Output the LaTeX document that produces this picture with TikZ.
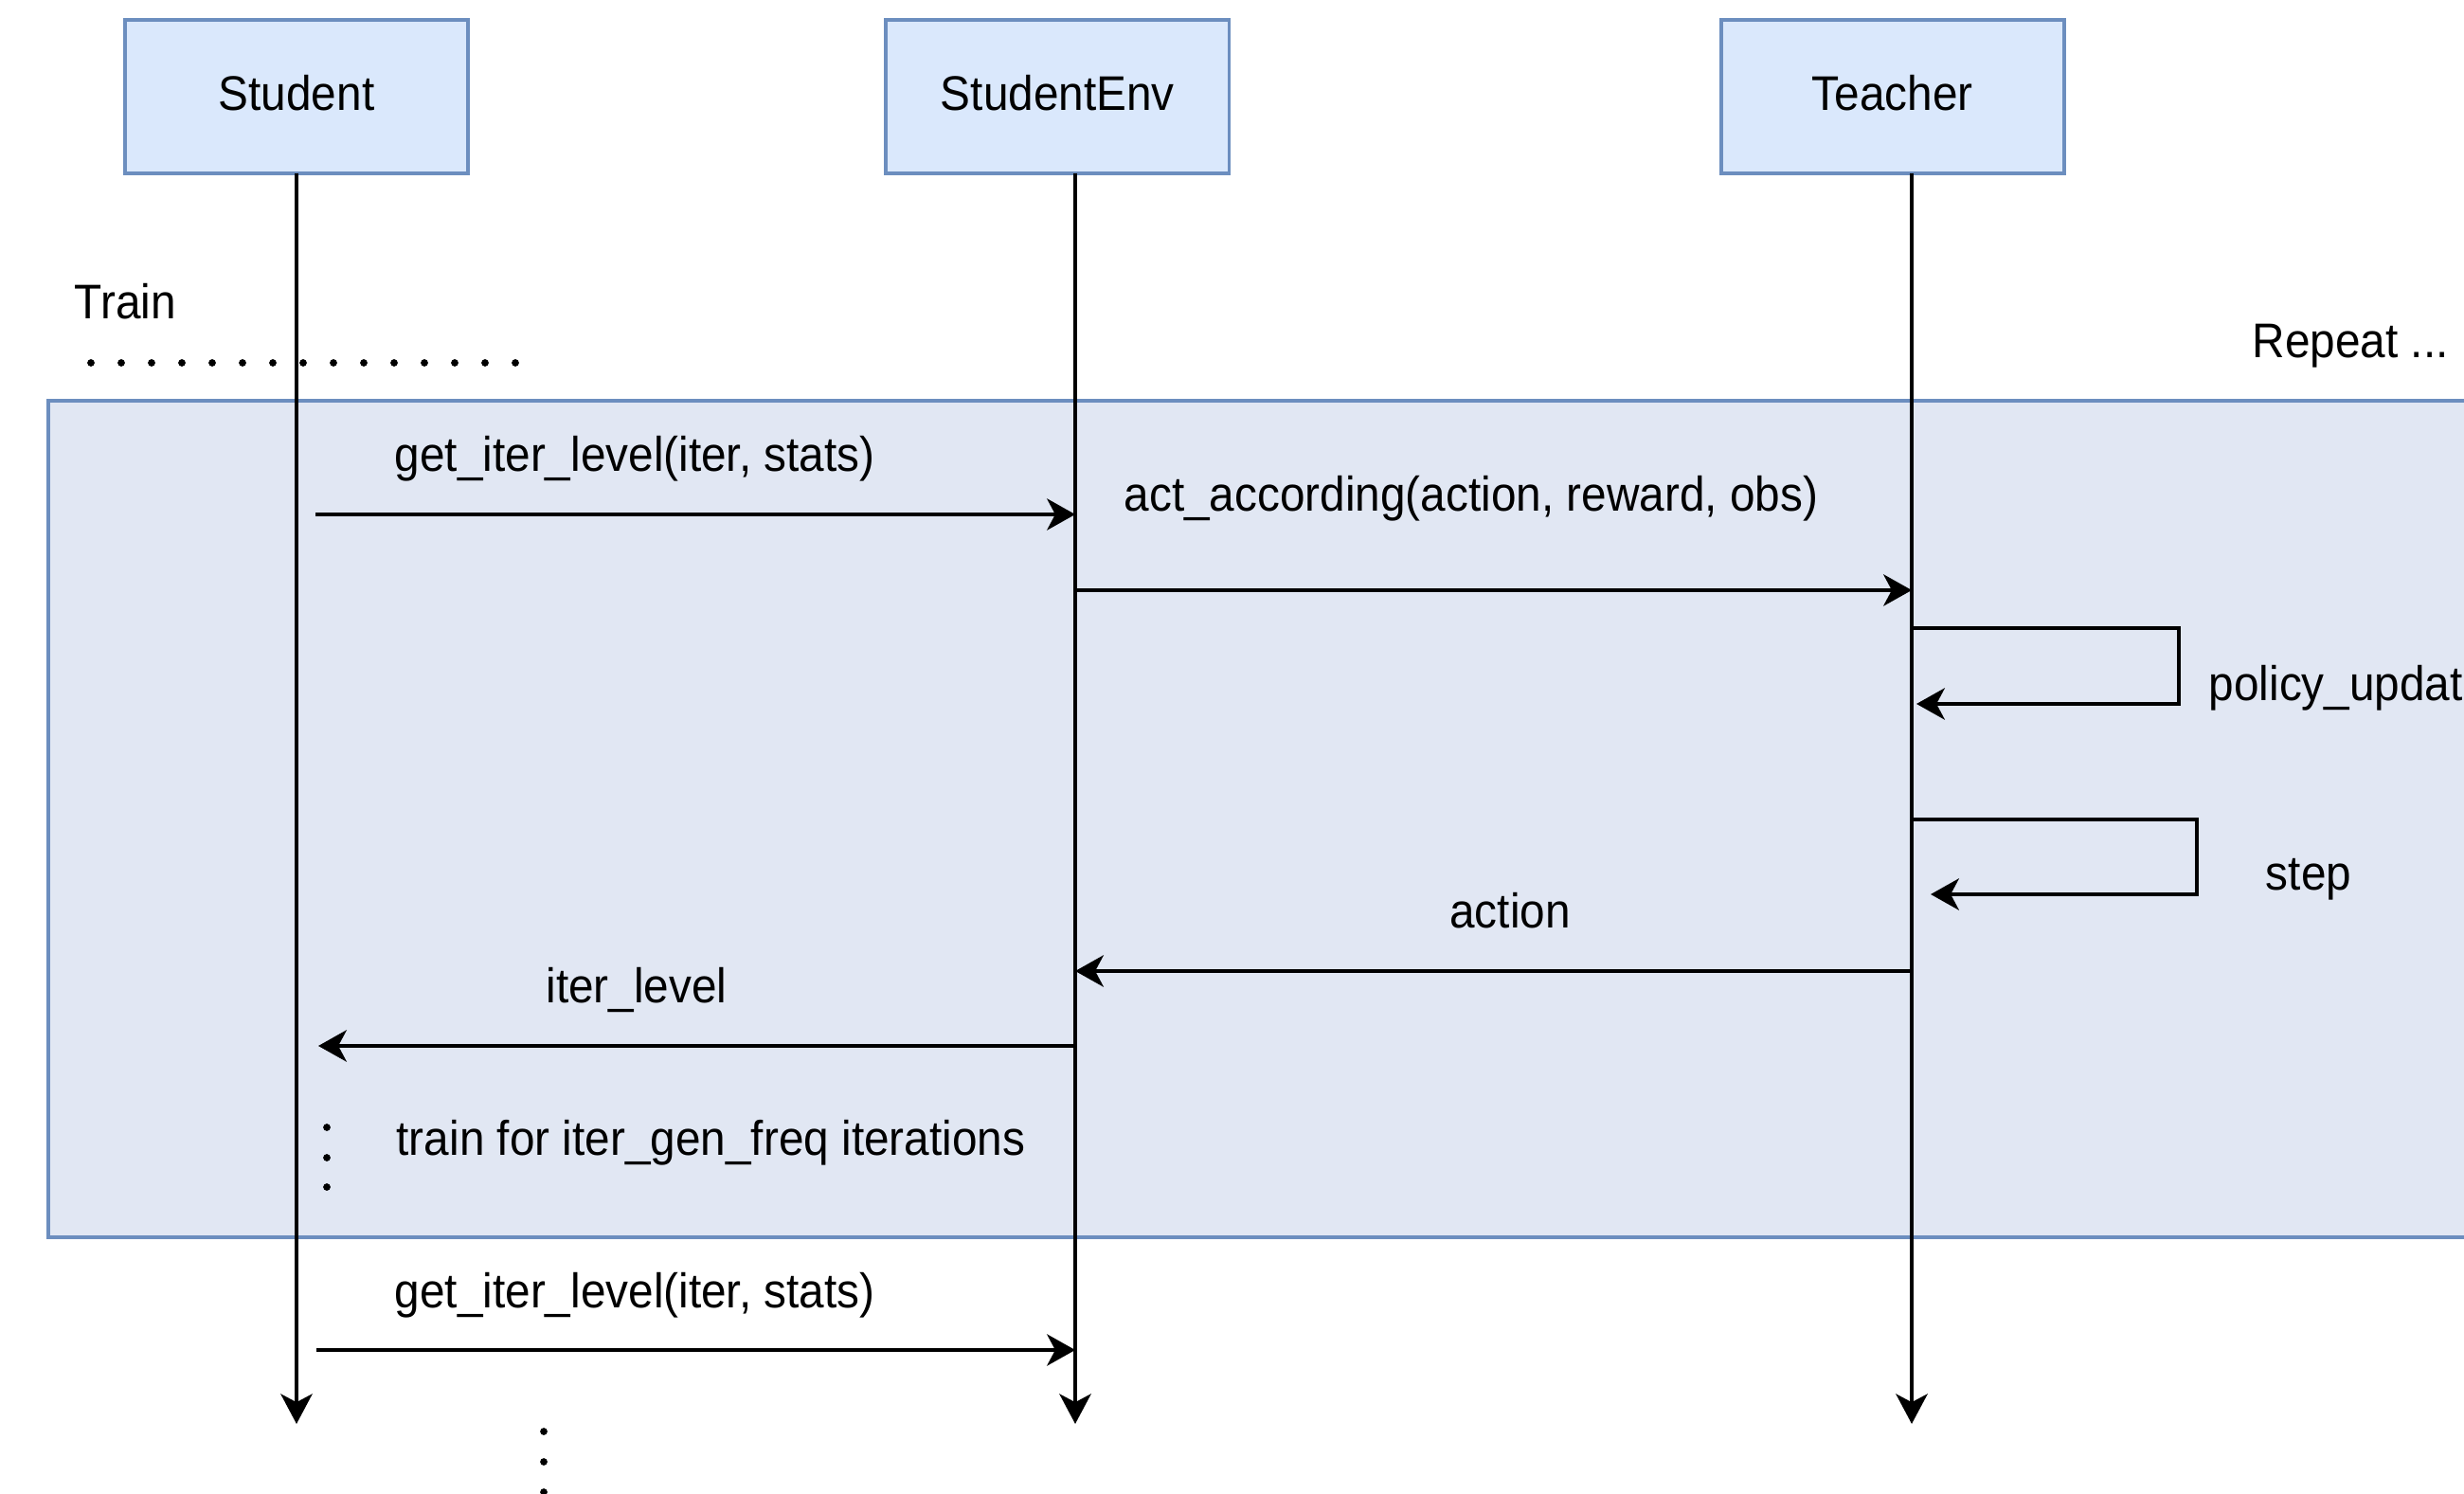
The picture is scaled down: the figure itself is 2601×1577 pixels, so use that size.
\documentclass[tikz,border=0pt]{standalone}
\usepackage{fontspec}
\setmainfont{Liberation Sans}[FakeStretch=0.93]
\usepackage{tikz}
\usetikzlibrary{arrows.meta, positioning}
\definecolor{objfill}{HTML}{DAE8FC}
\definecolor{objline}{HTML}{6C8EBF}
\definecolor{loopfill}{HTML}{E1E7F3}
\tikzstyle{obj}=[draw=objline,fill=objfill,line width=1.1pt,minimum width=3.62cm,minimum height=1.62cm,inner sep=0pt,text depth=2.3pt]
\tikzstyle{life}=[line width=1pt,-{Stealth[length=9pt,width=9.5pt,inset=2.5pt]}]
\tikzstyle{msg}=[line width=1pt,-{Stealth[length=8.5pt,width=9.5pt,inset=2.5pt]}]
\tikzstyle{lbl}=[inner sep=0pt,anchor=west]
\tikzstyle{pt}=[fill=black]

\begin{document}
\begin{tikzpicture}[x=0.01cm,y=-0.01cm,font=\fontsize{14.6}{17}\selectfont]
                    \useasboundingbox (0,0) rectangle (2601,1577);
                    \clip (0,0) rectangle (2601,1577);
                    \fill[loopfill] (51,423) rectangle (2660,1306);
                    \draw[objline,line width=1.1pt] (2660,423) -- (51,423) -- (51,1306) -- (2660,1306);
                    \node[obj] (student) at (313,102) {Student};
                    \node[obj,right=4.37cm of student] (env) {StudentEnv};
                    \node[obj,right=5.15cm of env] (teacher) {Teacher};
                    \coordinate (studenttop) at (313,183);
                    \coordinate (studentbot) at (313,1503);
                    \coordinate (envtop) at (1135,183);
                    \coordinate (envbot) at (1135,1503);
                    \coordinate (teachertop) at (2018,183);
                    \coordinate (teacherbot) at (2018,1503);
                    \draw[life] (studenttop) -- (studentbot);
                    \draw[life] (envtop) -- (envbot);
                    \draw[life] (teachertop) -- (teacherbot);
                    \node[lbl] (train) at (78,318) {Train};
                    \foreach \i in {0,...,14} \fill[pt] (96+32*\i,383) circle[radius=1.1pt];
                    \node[lbl] (repeat) at (2377,365) {Repeat ...};
                    \coordinate (get1) at (333,543);
                    \coordinate (act) at (1135,623);
                    \coordinate (pol) at (2018,663);
                    \coordinate (polend) at (2023,743);
                    \coordinate (stp) at (2018,865);
                    \coordinate (stpend) at (2038,944);
                    \coordinate (ret) at (2018,1025);
                    \coordinate (lvl) at (1135,1104);
                    \coordinate (lvlend) at (336,1104);
                    \coordinate (get2) at (334,1425);
                    \draw[msg] (get1) -- (get1 -| envtop);
                    \draw[msg] (act) -- (act -| teachertop);
                    \draw[msg] (pol) -- ++(282,0) |- (polend);
                    \draw[msg] (stp) -- ++(301,0) |- (stpend);
                    \draw[msg] (ret) -- (ret -| envtop);
                    \draw[msg] (lvl) -- (lvlend);
                    \draw[msg] (get2) -- (get2 -| envtop);
                    \node[lbl] (getlbl1) at (416,484) {get\_iter\_level(iter, stats)};
                    \node[lbl] (actlbl) at (1186,526) {act\_according(action, reward, obs)};
                    \node[lbl] (pollbl) at (2331,726) {policy\_update};
                    \node (stplbl) at (2437,928) {step};
                    \node (retlbl) at (1594,961) {action};
                    \node (lvllbl) at (672,1045) {iter\_level};
                    \node[lbl] (trainlbl) at (418,1206) {train for iter\_gen\_freq iterations};
                    \node[lbl] (getlbl2) at (416,1367) {get\_iter\_level(iter, stats)};
                    \foreach \y in {1190,1222,1253} \fill[pt] (345,\y) circle[radius=1.1pt];
                    \foreach \y in {1511,1543,1575} \fill[pt] (574,\y) circle[radius=1.1pt];
                \end{tikzpicture}
\end{document}
